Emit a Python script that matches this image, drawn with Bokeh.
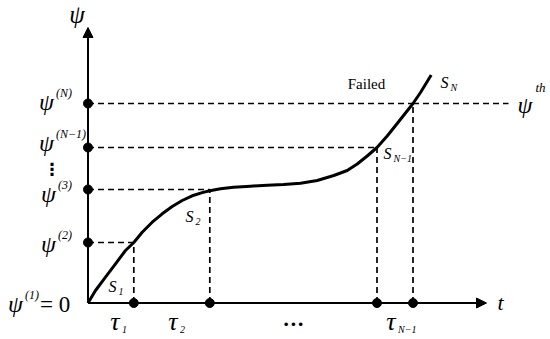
from bokeh.plotting import figure
from bokeh.models import Range1d, Arrow, NormalHead
from bokeh.core.properties import value
from bokeh.embed import file_html
from bokeh.resources import INLINE

# ---- data (schematic units; origin at the axis crossing) ----
curve_t = [0, 7.5, 17.5, 27.5, 37.5, 45.8, 54.2, 64.2, 74.2, 84.2, 94.2, 104.2,
           114.2, 121.8, 132.5, 145.5, 162.5, 179.2, 195.5, 212.5, 229.2, 245.8,
           259.2, 269.2, 279.2, 289.0, 299.2, 309.2, 317.5, 325.0, 332.5, 343.2]
curve_psi = [0, 12.5, 25.8, 39.2, 52.5, 60.5, 70.8, 80.8, 89.2, 96.5, 102.5, 107.2,
             110.4, 112.3, 114.2, 115.8, 116.8, 117.8, 118.5, 119.8, 122.5, 127.5,
             132.5, 139.0, 147.0, 155.5, 167.0, 179.5, 190.0, 199.5, 210.5, 228.0]

tau_marks = [45.8, 121.8, 289.0, 325.0]          # tau_1, tau_2, tau_{N-1}, tau_N
psi_levels = [60.5, 113.5, 155.5, 199.5]        # psi^(2), psi^(3), psi^(N-1), psi^(N)
psi_sup = ["(2)", "(3)", "(N\u22121)", "(N)"]
threshold_end_t = 420.5
axis_t_max = 398.5
axis_psi_max = 275.5

tau_labels = ["1", "2", "N\u22121"]
tau_label_t = [27.0, 85.0, 303.0]

s_labels = ["1", "2", "N\u22121", "N"]
s_label_t = [20.5, 97.5, 295.5, 352.5]
s_label_psi = [16.5, 86.5, 149.5, 220.5]

W, H = 550, 339
ox, oy = 87.5, 36.5  # origin inside the frame (px from left, px from bottom)

p = figure(width=W, height=H, x_range=Range1d(-ox, W - ox), y_range=Range1d(-oy, H - oy),
           output_backend="svg", toolbar_location=None, min_border=0,
           x_axis_type=None, y_axis_type=None)
p.grid.visible = False
p.outline_line_color = None
p.background_fill_color = "white"
p.border_fill_color = "white"

SERIF = value("Liberation Serif")
DASH = "6 4"
DW = 1.7

# dashed guide lines
for tm, lv in zip(tau_marks, psi_levels):
    p.line([0, tm], [lv, lv], line_color="black", line_width=DW, line_dash=DASH)
    p.line([tm, tm], [0, lv], line_color="black", line_width=DW, line_dash=DASH)
# threshold extension
p.line([tau_marks[-1], threshold_end_t], [psi_levels[-1], psi_levels[-1]],
       line_color="black", line_width=DW, line_dash=DASH)

# axes with arrows
p.add_layout(Arrow(end=NormalHead(size=10, fill_color="black", line_color="black"),
                   x_start=0, y_start=0, x_end=axis_t_max, y_end=0,
                   line_width=2, line_color="black"))
p.add_layout(Arrow(end=NormalHead(size=10, fill_color="black", line_color="black"),
                   x_start=0, y_start=0, x_end=0, y_end=axis_psi_max,
                   line_width=2, line_color="black"))

# degradation curve
p.line(curve_t, curve_psi, line_color="black", line_width=3, line_join="round")

# marker dots
p.scatter([0] * len(psi_levels), psi_levels, size=9, color="black")
p.scatter(tau_marks, [0] * len(tau_marks), size=9, color="black")

def txt(x, y, t, size, style="italic", align="left", base="middle", xo=0, yo=0, font=SERIF):
    p.text(x=x, y=y, text=t, text_font=font, text_font_size=size, text_font_style=style,
           text_align=align, text_baseline=base, x_offset=xo, y_offset=yo, text_color="black")

# y-axis labels psi^(k)
n = len(psi_levels)
label_yo = [1, 4, -5, -2]
sup_right = [-30, -30, -32, -32]
txt([0] * n, psi_levels, ["\u03c8"] * n, "24px", align="right",
    xo=[s - 2 for s in sup_right], yo=label_yo)
txt([0] * n, psi_levels, psi_sup, "12px", style="italic",
    xo=sup_right, yo=[v - 9 for v in label_yo])
# psi^(1) = 0
txt([0], [0], ["\u03c8"], "24px", align="right", xo=-65, yo=1)
txt([0], [0], ["(1)"], "12px", xo=-63, yo=-8)
txt([0], [0], ["= 0"], "23px", style="normal", xo=-48, yo=1)

# vertical dots between psi^(3) and psi^(N-1)
txt([0], [(psi_levels[1] + psi_levels[2]) / 2], ["\u22ee"], "17px", style="bold",
    align="center", xo=-36, yo=0, font=value("DejaVu Sans"))

# axis names
txt([0], [axis_psi_max], ["\u03c8"], "25px", align="center", xo=-11, yo=-13)
txt([axis_t_max], [0], ["t"], "22px", xo=11, yo=-1)

# tau labels
m = len(tau_labels)
txt(tau_label_t, [0] * m, ["\u03c4"] * m, "26px", align="center", yo=18)
txt(tau_label_t, [0] * m, tau_labels, "10px", style="italic", xo=7, yo=26)
txt([(tau_marks[1] + tau_marks[2]) / 2], [0], ["\u00b7\u00b7\u00b7"], "22px", style="bold",
    align="center", yo=20)

# S labels
k = len(s_labels)
txt(s_label_t, s_label_psi, ["S"] * k, "16px")
txt(s_label_t, s_label_psi, s_labels, "10px", xo=10, yo=5)

# threshold label
txt([threshold_end_t], [psi_levels[-1]], ["\u03c8"], "24px", xo=9, yo=1)
txt([threshold_end_t], [psi_levels[-1]], ["th"], "13px", xo=27, yo=-16)

# Failed
txt([278.5], [219.5], ["Failed"], "15px", style="normal", align="center")

open("out.html", "w").write(file_html(p, INLINE))
